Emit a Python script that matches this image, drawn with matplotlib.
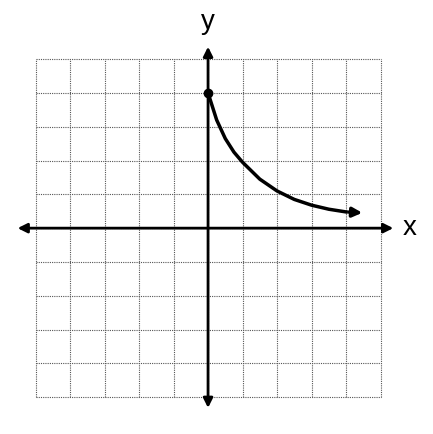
import numpy as np
import matplotlib.pyplot as plt

# grid extent and curve points
grid_ticks = [-5, -4, -3, -2, -1, 0, 1, 2, 3, 4, 5]
curve_x = [0, 0.25, 0.5, 0.75, 1, 1.5, 2, 2.5, 3, 3.5, 4, 4.3]
curve_y = [4, 3.2, 2.65, 2.25, 1.95, 1.45, 1.1, 0.85, 0.68, 0.56, 0.48, 0.45]

fig = plt.figure(figsize=(4.33, 4.34), dpi=100)
ax = fig.add_axes([0, 0, 1, 1])
ax.set_xlim(-6.03, 6.52)
ax.set_ylim(-6.09, 6.75)
ax.axis('off')

for t in grid_ticks:
    ax.plot([t, t], [-5, 5], color='#555555', lw=0.8, ls=(0, (1, 1)))
    ax.plot([-5, 5], [t, t], color='#555555', lw=0.8, ls=(0, (1, 1)))

# axes with arrows
ax.annotate('', xy=(5.45, 0), xytext=(-5.6, 0),
            arrowprops=dict(arrowstyle='<|-|>', color='black', lw=2, mutation_scale=14))
ax.annotate('', xy=(0, 5.45), xytext=(0, -5.4),
            arrowprops=dict(arrowstyle='<|-|>', color='black', lw=2, mutation_scale=14))
ax.text(5.85, 0, 'x', fontsize=20, ha='center', va='center', family='Liberation Sans')
ax.text(0, 6.1, 'y', fontsize=20, ha='center', va='center', family='Liberation Sans')

ax.plot(curve_x[:-1], curve_y[:-1], color='black', lw=2.5)
ax.annotate('', xy=(curve_x[-1] + 0.25, curve_y[-1]), xytext=(curve_x[-2], curve_y[-2]),
            arrowprops=dict(arrowstyle='-|>', color='black', lw=2.5, mutation_scale=14))
ax.plot([0], [4], 'o', color='black', ms=6)

fig.savefig('out.png', dpi=100, facecolor='white')
